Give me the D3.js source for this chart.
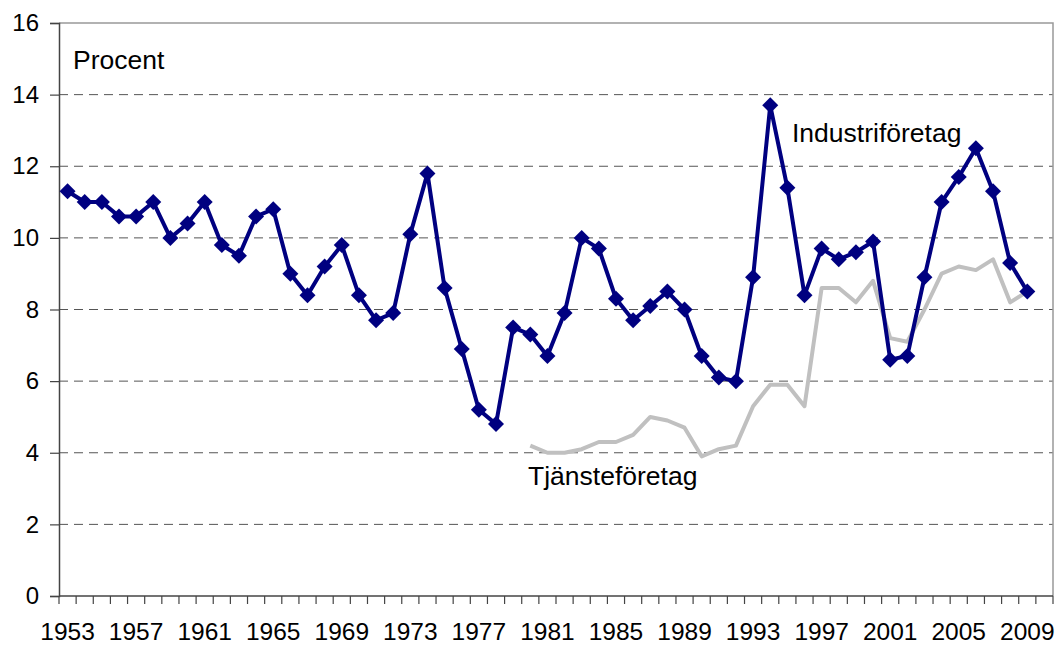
<!DOCTYPE html>
<html lang="sv">
<head>
<meta charset="UTF-8">
<title>Industriföretag / Tjänsteföretag</title>
<script src="https://cdnjs.cloudflare.com/ajax/libs/d3/7.8.5/d3.min.js"></script>
<style>
  * { margin: 0; padding: 0; }
  body { background: #fff; width: 1059px; height: 646px; overflow: hidden; }
  svg { display: block; font-family: "Liberation Sans", Arial, sans-serif; }
</style>
</head>
<body>
<svg id="chart" width="1059" height="646"></svg>
<script>
// years on the category axis (2010 is an empty slot at the end)
const years = d3.range(1953, 2011);
const tickYears = d3.range(1953, 2010, 4);
const yTicks = [0, 2, 4, 6, 8, 10, 12, 14, 16];

// Industriföretag, 1953-2009
const industri = [11.3, 11.0, 11.0, 10.6, 10.6, 11.0, 10.0, 10.4, 11.0, 9.8,
  9.5, 10.6, 10.8, 9.0, 8.4, 9.2, 9.8, 8.4, 7.7, 7.9,
  10.1, 11.8, 8.6, 6.9, 5.2, 4.8, 7.5, 7.3, 6.7, 7.9,
  10.0, 9.7, 8.3, 7.7, 8.1, 8.5, 8.0, 6.7, 6.1, 6.0,
  8.9, 13.7, 11.4, 8.4, 9.7, 9.4, 9.6, 9.9, 6.6, 6.7,
  8.9, 11.0, 11.7, 12.5, 11.3, 9.3, 8.5];

// Tjänsteföretag, 1980-2009
const tjanst = [4.2, 4.0, 4.0, 4.1, 4.3, 4.3, 4.5, 5.0, 4.9, 4.7,
  3.9, 4.1, 4.2, 5.3, 5.9, 5.9, 5.3, 8.6, 8.6, 8.2,
  8.8, 7.2, 7.1, 8.0, 9.0, 9.2, 9.1, 9.4, 8.2, 8.5];

const industriData = industri.map((v, i) => ({ year: 1953 + i, v }));
const tjanstData = tjanst.map((v, i) => ({ year: 1980 + i, v }));

const margin = { left: 59, right: 6, top: 23, bottom: 50 };
const W = 1059, H = 646;

const svg = d3.select('#chart');

const x = d3.scaleBand().domain(years).range([margin.left, W - margin.right]);
const y = d3.scaleLinear().domain([0, 16]).range([H - margin.bottom, margin.top]);
const cx = d => x(d) + x.bandwidth() / 2;

// gridlines
svg.append('g')
  .selectAll('line')
  .data(yTicks.filter(t => t > 0 && t < 16))
  .join('line')
  .attr('x1', margin.left).attr('x2', W - margin.right)
  .attr('y1', d => y(d)).attr('y2', d => y(d))
  .attr('stroke', '#555').attr('stroke-width', 1)
  .attr('stroke-dasharray', '9,6');

// frame: top and right in gray
svg.append('path')
  .attr('d', `M${margin.left},${y(16)}H${W - margin.right}V${y(0)}`)
  .attr('fill', 'none').attr('stroke', '#999').attr('stroke-width', 1.5);

// y axis
const yAxis = svg.append('g')
  .attr('transform', `translate(${margin.left},0)`)
  .call(d3.axisLeft(y).tickValues(yTicks).tickSize(9).tickPadding(11).tickFormat(d3.format('d')));
yAxis.select('.domain').attr('stroke', '#444').attr('stroke-width', 1.5);
yAxis.selectAll('.tick line').attr('stroke', '#444').attr('stroke-width', 1.2);
yAxis.selectAll('text').attr('font-size', 24).attr('fill', '#000')
  .attr('font-family', '"Liberation Sans", Arial, sans-serif');

// x axis: tick marks between categories
const xg = svg.append('g').attr('transform', `translate(0,${y(0)})`);
xg.append('line')
  .attr('x1', margin.left).attr('x2', W - margin.right)
  .attr('stroke', '#444').attr('stroke-width', 1.5);
xg.selectAll('line.tk')
  .data(years.concat([null]))
  .join('line')
  .attr('class', 'tk')
  .attr('x1', (d, i) => margin.left + i * x.step())
  .attr('x2', (d, i) => margin.left + i * x.step())
  .attr('y1', 0).attr('y2', 8)
  .attr('stroke', '#444').attr('stroke-width', 1.2);
xg.selectAll('text')
  .data(tickYears)
  .join('text')
  .attr('x', d => cx(d))
  .attr('y', 44)
  .attr('text-anchor', 'middle')
  .attr('font-size', 24.5)
  .text(d => d);

// Tjänsteföretag line
const line = d3.line().x(d => cx(d.year)).y(d => y(d.v));
svg.append('path')
  .datum(tjanstData)
  .attr('d', line)
  .attr('fill', 'none').attr('stroke', '#c0c0c0').attr('stroke-width', 4)
  .attr('stroke-linejoin', 'round');

// Industriföretag line with diamond markers
svg.append('path')
  .datum(industriData)
  .attr('d', line)
  .attr('fill', 'none').attr('stroke', '#000080').attr('stroke-width', 4)
  .attr('stroke-linejoin', 'round');

svg.append('g')
  .selectAll('path')
  .data(industriData)
  .join('path')
  .attr('transform', d => `translate(${cx(d.year)},${y(d.v)})`)
  .attr('d', 'M0,-8L8,0L0,8L-8,0Z')
  .attr('fill', '#000080');

// labels
svg.append('text').attr('x', 73).attr('y', 69).attr('font-size', 26.5).text('Procent');
svg.append('text').attr('x', 792).attr('y', 142).attr('font-size', 26.5).text('Industriföretag');
svg.append('text').attr('x', 528).attr('y', 485).attr('font-size', 26.5).text('Tjänsteföretag');
</script>
</body>
</html>
